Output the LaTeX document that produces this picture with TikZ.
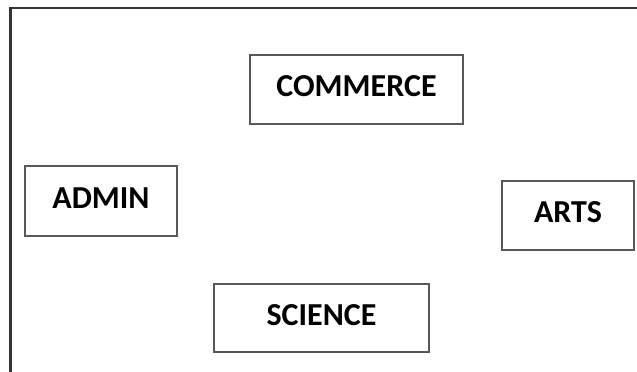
\documentclass[tikz,border=0pt]{standalone}
\usepackage{fontspec}
\setmainfont{Carlito}
\usepackage{tikz}

\begin{document}
\begin{tikzpicture}[x=1pt,y=-1pt]

        \tikzset{
            dept/.style={draw=black!65, line width=1.5pt, fill=white, rectangle,
                font=\fontsize{32}{38}\selectfont\bfseries,
                text depth=6pt, inner sep=0pt},
            frame/.style={draw=black!80, line width=2.6pt}
        }

        \useasboundingbox (0,0) rectangle (637,372);

        \draw[frame] (10.5,373) -- (10.5,8) -- (638,8);

        \node[dept, minimum width=213pt, minimum height=69pt] (commerce) at (356.5, 89.5) {COMMERCE};
        \node[dept, minimum width=152pt, minimum height=70pt] (admin) at (101, 201) {ADMIN};
        \node[dept, minimum width=132pt, minimum height=69pt] (arts) at (568, 215.5) {ARTS};
        \node[dept, minimum width=215pt, minimum height=68pt] (science) at (321.5, 318) {SCIENCE};

    \end{tikzpicture}
\end{document}
